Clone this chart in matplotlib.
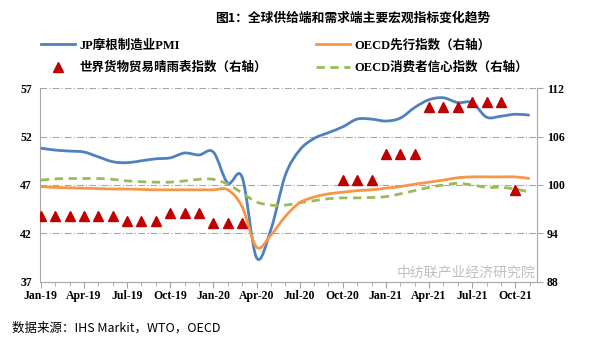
import matplotlib
matplotlib.use('Agg')
import matplotlib.pyplot as plt
import numpy as np
from matplotlib.path import Path
from matplotlib.patches import PathPatch
from matplotlib.lines import Line2D

# data (monthly, Jan-19 .. Nov-21)
months = ['Jan-19', 'Feb-19', 'Mar-19', 'Apr-19', 'May-19', 'Jun-19', 'Jul-19', 'Aug-19', 'Sep-19',
          'Oct-19', 'Nov-19', 'Dec-19', 'Jan-20', 'Feb-20', 'Mar-20', 'Apr-20', 'May-20', 'Jun-20',
          'Jul-20', 'Aug-20', 'Sep-20', 'Oct-20', 'Nov-20', 'Dec-20', 'Jan-21', 'Feb-21', 'Mar-21',
          'Apr-21', 'May-21', 'Jun-21', 'Jul-21', 'Aug-21', 'Sep-21', 'Oct-21', 'Nov-21']
pmi = [50.8, 50.6, 50.5, 50.4, 49.9, 49.4, 49.3, 49.5, 49.7, 49.8, 50.3, 50.1,
       50.4, 47.2, 47.8, 39.5, 42.4, 48.0, 50.6, 51.8, 52.4, 53.0, 53.8, 53.8,
       53.6, 53.9, 55.0, 55.8, 56.0, 55.5, 55.5, 54.0, 54.1, 54.3, 54.2]
cli = [99.8, 99.7, 99.65, 99.6, 99.55, 99.5, 99.5, 99.45, 99.4, 99.4, 99.4, 99.4,
       99.4, 99.4, 97.3, 92.3, 93.8, 96.1, 97.8, 98.5, 98.9, 99.1, 99.3, 99.4,
       99.6, 99.8, 100.1, 100.35, 100.6, 100.9, 101.0, 101.0, 101.0, 101.0, 100.8]
cci = [100.6, 100.75, 100.8, 100.8, 100.8, 100.7, 100.5, 100.4, 100.35, 100.35, 100.5, 100.7,
       100.7, 100.1, 99.0, 97.9, 97.5, 97.5, 97.8, 98.05, 98.3, 98.4, 98.4, 98.45,
       98.55, 98.9, 99.3, 99.7, 100.0, 100.2, 100.0, 99.7, 99.7, 99.5, 99.1]
wto_idx = list(range(0, 15)) + list(range(21, 34))
wto = [96.1, 96.1, 96.1, 96.1, 96.1, 96.1, 95.5, 95.5, 95.5, 96.5, 96.5, 96.5,
       95.3, 95.3, 95.3,
       100.6, 100.6, 100.6, 103.8, 103.8, 103.8, 109.6, 109.6, 109.6, 110.3, 110.3, 110.3, 99.4]
tick_pos = list(range(0, 34, 3))

BLUE = '#4F81BD'
ORANGE = '#F79646'
GREEN = '#9BBB59'
RED = '#C00000'


def smooth_path(xs, ys):
    # Excel-like smoothed line: Catmull-Rom segments as cubic beziers
    pts = np.column_stack([xs, ys]).astype(float)
    verts = [pts[0]]
    codes = [Path.MOVETO]
    n = len(pts)
    for i in range(n - 1):
        p0 = pts[i - 1] if i > 0 else pts[i]
        p1 = pts[i]
        p2 = pts[i + 1]
        p3 = pts[i + 2] if i + 2 < n else pts[i + 1]
        verts += [p1 + (p2 - p0) / 6.0, p2 - (p3 - p1) / 6.0, p2]
        codes += [Path.CURVE4] * 3
    return Path(verts, codes)


label_font = ['Liberation Serif', 'Noto Sans CJK SC']
plt.rcParams['font.family'] = ['Liberation Serif', 'Noto Sans CJK SC', 'DejaVu Sans']

fig = plt.figure(figsize=(5.9, 3.51), dpi=100)
ax = fig.add_axes([0.068, 0.197, 0.842, 0.552])
ax2 = ax.twinx()

x = np.arange(len(months))

grid_ls = (0, (6, 2, 1, 2))
for v in [42, 47, 52, 57]:
    ax.axhline(v, color='#A6A6A6', lw=0.8, ls=grid_ls, zorder=0)

ax.add_patch(PathPatch(smooth_path(x, pmi), facecolor='none', edgecolor=BLUE, lw=2.0, zorder=3))
ax2.add_patch(PathPatch(smooth_path(x, cli), facecolor='none', edgecolor=ORANGE, lw=2.0, zorder=3))
ax2.add_patch(PathPatch(smooth_path(x, cci), facecolor='none', edgecolor=GREEN, lw=2.0,
                        linestyle=(0, (3, 2)), zorder=2))
ax2.plot(wto_idx, wto, ls='none', marker='^', ms=7, color=RED, mec=RED, zorder=4)

ax.set_xlim(-0.05, 34.5)
ax.set_ylim(37, 57)
ax2.set_ylim(88, 112)
ax.set_yticks([37, 42, 47, 52, 57])
ax2.set_yticks([88, 94, 100, 106, 112])
ax.set_xticks(tick_pos)
ax.set_xticklabels([months[i] for i in tick_pos])
ax.set_xticks(x, minor=True)

for a in (ax, ax2):
    a.spines['top'].set_visible(False)
ax.spines['right'].set_visible(False)
ax2.spines['left'].set_visible(False)
ax2.spines['bottom'].set_visible(False)
ax.spines['left'].set_color('#A6A6A6')
ax.spines['bottom'].set_color('#A6A6A6')
ax2.spines['right'].set_color('#A6A6A6')

ax.tick_params(axis='y', length=0, pad=6, labelsize=8.5)
ax.tick_params(axis='x', which='major', length=4, color='#A6A6A6', pad=2, labelsize=8.5)
ax.tick_params(axis='x', which='minor', length=3, color='#A6A6A6')
ax2.tick_params(axis='y', length=4, color='#A6A6A6', pad=3, labelsize=8.5)
for lab in ax.get_xticklabels() + ax.get_yticklabels() + ax2.get_yticklabels():
    lab.set_fontweight('bold')

# title
fig.text(0.597, 0.948, '图1：全球供给端和需求端主要宏观指标变化趋势', ha='center', va='center',
         fontsize=9.2, fontweight='bold', family=['Noto Sans CJK SC'])

# legend
handles = [
    Line2D([], [], color=BLUE, lw=2.0),
    Line2D([], [], ls='none', marker='^', ms=7, color=RED),
    Line2D([], [], color=ORANGE, lw=2.0),
    Line2D([], [], color=GREEN, lw=2.0, ls=(0, (3, 2))),
]
labels = ['JP摩根制造业PMI', '世界货物贸易晴雨表指数（右轴）',
          'OECD先行指数（右轴）', 'OECD消费者信心指数（右轴）']
fig.legend(handles, labels, ncol=2, loc='upper left', bbox_to_anchor=(0.05, 0.92),
           frameon=False, handlelength=2.7, handletextpad=0.4, columnspacing=3.9,
           labelspacing=0.8, prop={'family': label_font, 'weight': 'bold', 'size': 9})

# watermark
fig.text(0.79, 0.225, '中纺联产业经济研究院', ha='center', va='center', fontsize=10,
         color='#B0B0B0', alpha=0.8, family=['Noto Sans CJK SC'])

# source
fig.text(0.02, 0.065, '数据来源：IHS Markit，WTO，OECD', ha='left', va='center', fontsize=9,
         family=['Noto Sans CJK SC'])

fig.savefig('out.png', dpi=100)
